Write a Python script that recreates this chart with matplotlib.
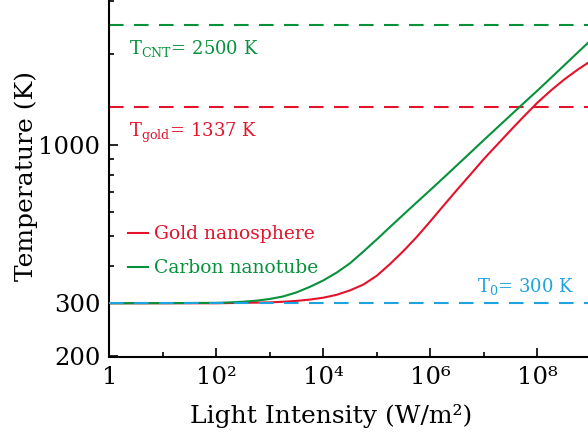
import numpy as np
import matplotlib
matplotlib.use("Agg")
import matplotlib.pyplot as plt

plt.rcParams['font.family'] = ['DejaVu Serif']
plt.rcParams['mathtext.fontset'] = 'dejavuserif'

# ---- data ----
log_intensity = [0, 1, 2, 2.25, 2.5, 2.75, 3.0, 3.25, 3.5, 3.75, 4.0, 4.25, 4.5,
                 4.75, 5.0, 5.25, 5.5, 5.75, 6.0, 6.25, 6.5, 6.75, 7.0, 7.25,
                 7.5, 7.75, 8.0, 8.25, 8.5, 8.75, 9.0]
T_gold = [300, 300, 300, 300.5, 301, 301.5, 302, 303.5, 305.5, 308.5, 313, 320, 331,
          346, 370, 405, 447, 498, 560, 632, 712, 800, 900, 1004,
          1120, 1246, 1382, 1515, 1648, 1776, 1900]
T_cnt = [300, 300.3, 301, 302, 303.5, 306, 310, 316, 326, 340, 357, 379, 407,
         445, 488, 537, 590, 648, 711, 781, 859, 945, 1040, 1143,
         1256, 1380, 1515, 1667, 1836, 2022, 2226]
intensity = [10.0 ** v for v in log_intensity]

T0 = 300
T_gold_melt = 1337
T_cnt_limit = 2500

series_labels = ["Gold nanosphere", "Carbon nanotube"]
x_tick_vals = [1e0, 1e2, 1e4, 1e6, 1e8]
x_tick_labels = ["1", "10\u00b2", "10\u2074", "10\u2076", "10\u2078"]
x_minor_vals = [1e1, 1e3, 1e5, 1e7, 1e9]
y_tick_vals = [200, 300, 1000]
y_tick_labels = ["200", "300", "1000"]
y_minor_vals = [400, 500, 600, 700, 800, 900, 2000, 3000]

red = "#e3132c"
green = "#07913b"
blue = "#1ca3e0"

fig = plt.figure(figsize=(5.88, 4.34), dpi=100)
ax = fig.add_axes([109.3 / 588, 77.5 / 434, 481.5 / 588, 355.5 / 434])

dash = (7, 5)
ax.axhline(T_cnt_limit, color=green, lw=1.5, dashes=dash, zorder=1)
ax.axhline(T_gold_melt, color=red, lw=1.5, dashes=dash, zorder=1)

l1, = ax.plot(intensity, T_gold, color=red, lw=1.5, label=series_labels[0], zorder=2)
l2, = ax.plot(intensity, T_cnt, color=green, lw=1.5, label=series_labels[1], zorder=2)
ax.axhline(T0, color=blue, lw=1.5, dashes=dash, zorder=3)

ax.set_xscale('log')
ax.set_yscale('log')
ax.set_xlim(1, 1e9)
ax.set_ylim(200, 3000)

ax.set_xticks(x_tick_vals)
ax.set_xticklabels(x_tick_labels)
ax.set_xticks(x_minor_vals, minor=True)
ax.set_xticklabels([], minor=True)
ax.set_yticks(y_tick_vals)
ax.set_yticklabels(y_tick_labels)
ax.set_yticks(y_minor_vals, minor=True)
ax.set_yticklabels([], minor=True)

ax.tick_params(which='major', direction='in', length=6.5, width=1.2,
               labelsize=17.5, pad=6.5)
ax.tick_params(which='minor', direction='in', length=3.6, width=1.2)
ax.tick_params(axis='x', which='major', pad=7)

for s in ['top', 'right']:
    ax.spines[s].set_visible(False)
for s in ['left', 'bottom']:
    ax.spines[s].set_linewidth(1.5)

ax.set_xlabel("Light Intensity (W/m\u00b2)", fontsize=18)
ax.set_ylabel("Temperature (K)", fontsize=18)
ax.xaxis.label.set_va('baseline')
ax.xaxis.set_label_coords((331.5 - 109.3) / 481.5, (356.5 - 423) / 355.5)
ax.yaxis.set_label_coords((38 - 109.3) / 481.5, (356.5 - 176) / 355.5)

fs = 13
ax.text(10**0.37, 2010, r"T$_{\rm CNT}$= 2500 K", color=green, fontsize=fs,
        ha='left', va='baseline')
ax.text(10**0.37, 1067, r"T$_{\rm gold}$= 1337 K", color=red, fontsize=fs,
        ha='left', va='baseline')
ax.text(10**6.87, 328, r"T$_{0}$= 300 K", color=blue, fontsize=fs,
        ha='left', va='baseline')

leg = ax.legend(handles=[l1, l2], loc='upper left',
                bbox_to_anchor=(0.0233, 0.39), frameon=False, fontsize=13.5,
                handlelength=1.07, handletextpad=0.3, labelspacing=0.84,
                borderaxespad=0.0)
for txt, ln in zip(leg.get_texts(), [l1, l2]):
    txt.set_color(ln.get_color())

fig.savefig("out.png", dpi=100)
